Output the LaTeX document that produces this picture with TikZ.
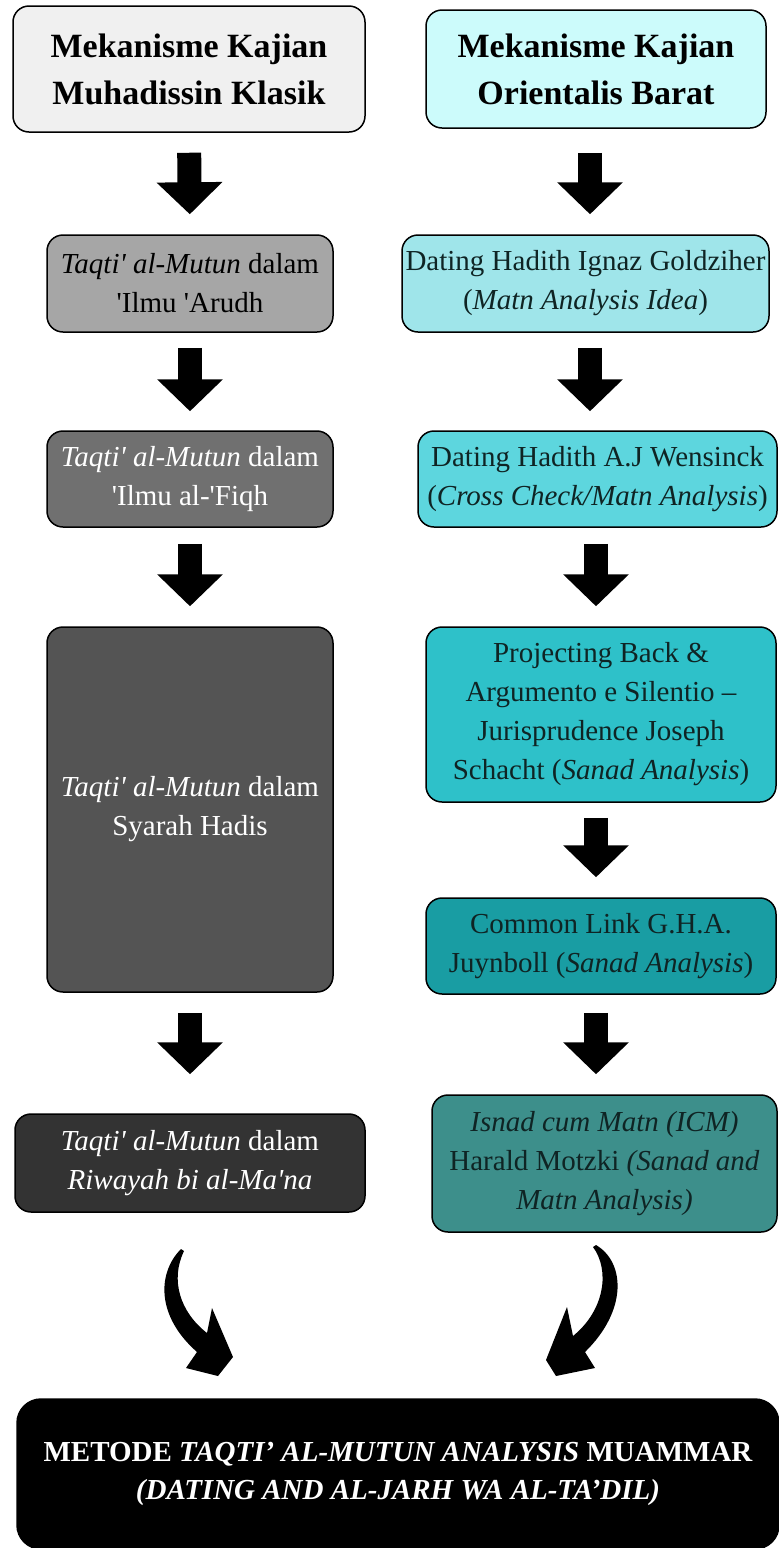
\documentclass[tikz,border=0pt]{standalone}
\usepackage{fontspec}
\setmainfont{Liberation Serif}[Ligatures=TeXOff]
\usetikzlibrary{arrows.meta}
\definecolor{gA}{HTML}{F0F0F0}
\definecolor{gB}{HTML}{A6A6A6}
\definecolor{gC}{HTML}{707070}
\definecolor{gD}{HTML}{545454}
\definecolor{gE}{HTML}{333333}
\definecolor{cA}{HTML}{CCFBFB}
\definecolor{cB}{HTML}{9FE5EA}
\definecolor{cC}{HTML}{5DD6DE}
\definecolor{cD}{HTML}{2EC1C9}
\definecolor{cE}{HTML}{199DA3}
\definecolor{cF}{HTML}{3D8F8B}
\definecolor{tR}{HTML}{0F2424}
\begin{document}
\begin{tikzpicture}[x=1pt,y=-1pt,
  box/.style={draw=black, line width=1.5pt, rounded corners=16pt, align=center, inner sep=0pt},
  hdr/.style={box, font=\fontsize{34}{47}\selectfont\bfseries},
  txt/.style={box, font=\fontsize{29}{39}\selectfont},
  barrow/.style={line width=24pt, -{Triangle[width=64pt,length=32pt]}},
]
\useasboundingbox (0,0) rectangle (779,1548);

% left column
\node[hdr, fill=gA, minimum width=352pt, minimum height=126pt] (L1) at (189,69) {Mekanisme Kajian\\Muhadissin Klasik};
\node[txt, fill=gB, minimum width=286pt, minimum height=97pt] (L2) at (190,283.5) {\textit{Taqti' al-Mutun} dalam\\'Ilmu 'Arudh};
\node[txt, fill=gC, text=white, minimum width=286pt, minimum height=96pt] (L3) at (190,479) {\textit{Taqti' al-Mutun} dalam\\'Ilmu al-'Fiqh};
\node[txt, fill=gD, text=white, minimum width=286pt, minimum height=365pt] (L4) at (190,809.5) {\textit{Taqti' al-Mutun} dalam\\Syarah Hadis};
\node[txt, fill=gE, text=white, minimum width=350pt, minimum height=98pt] (L5) at (190,1163) {\textit{Taqti' al-Mutun} dalam\\\textit{Riwayah bi al-Ma'na}};

% right column
\node[hdr, fill=cA, minimum width=340pt, minimum height=118pt] (R1) at (596,69) {Mekanisme Kajian\\Orientalis Barat};
\node[txt, fill=cB, text=tR, minimum width=367pt, minimum height=97pt] (R2) at (585.5,283.5) {Dating Hadith Ignaz Goldziher\\(\textit{Matn Analysis Idea})};
\node[txt, fill=cC, text=tR, minimum width=359pt, minimum height=96pt] (R3) at (597.5,479) {Dating Hadith A.J Wensinck\\(\textit{Cross Check/Matn Analysis})};
\node[txt, fill=cD, text=tR, minimum width=350pt, minimum height=175pt] (R4) at (601,714.5) {Projecting Back \&\\Argumento e Silentio –\\Jurisprudence Joseph\\Schacht (\textit{Sanad Analysis})};
\node[txt, fill=cE, text=tR, minimum width=350pt, minimum height=96pt] (R5) at (601,946) {Common Link G.H.A.\\Juynboll (\textit{Sanad Analysis})};
\node[txt, fill=cF, text=tR, minimum width=345pt, minimum height=137pt] (R6) at (604.5,1163.5) {\textit{Isnad cum Matn (ICM)}\\Harald Motzki \textit{(Sanad and}\\\textit{Matn Analysis)}};

% bottom
\node[box, fill=black, text=white, rounded corners=24pt, minimum width=762pt, minimum height=150pt,
  font=\fontsize{29}{38}\selectfont\bfseries] (M) at (398,1474)
  {METODE \textit{TAQTI’ AL-MUTUN ANALYSIS} MUAMMAR\\\textit{(DATING AND AL-JARH WA AL-TA’DIL)}};

% straight block arrows, left
\draw[barrow, shorten <=20pt, shorten >=20pt] (L1.south) -- (L2.north);
\draw[barrow, shorten <=15pt, shorten >=19pt] (L2.south) -- (L3.north);
\draw[barrow, shorten <=16pt, shorten >=20pt] (L3.south) -- (L4.north);
\draw[barrow, shorten <=20pt, shorten >=39pt] (L4.south) -- (L4.south |- L5.north);

% straight block arrows, right
\draw[barrow, shorten <=24pt, shorten >=20pt] ([xshift=-6pt]R1.south) -- ([xshift=-6pt]R1.south |- R2.north);
\draw[barrow, shorten <=15pt, shorten >=19pt] ([xshift=4.5pt]R2.south) -- ([xshift=4.5pt]R2.south |- R3.north);
\draw[barrow, shorten <=16pt, shorten >=20pt] ([xshift=-1.5pt]R3.south) -- ([xshift=-1.5pt]R3.south |- R4.north);
\draw[barrow, shorten <=15pt, shorten >=20pt] ([xshift=-5pt]R4.south) -- ([xshift=-5pt]R4.south |- R5.north);
\draw[barrow, shorten <=18pt, shorten >=20pt] ([xshift=-5pt]R5.south) -- ([xshift=-5pt]R5.south |- R6.north);

% curved arrows into the bottom box
\fill[black] (181,1249) .. controls (158,1272) and (155,1315) .. (197,1352)
  -- (186,1368) -- (218,1376) -- (233,1357) -- (212,1308) -- (207,1333)
  .. controls (180,1312) and (170,1280) .. (184,1251) -- cycle;
\fill[black] (596,1245) .. controls (625,1262) and (628,1310) .. (585,1352)
  -- (595,1368) -- (556,1376) -- (546,1360) -- (567,1307) -- (573,1336)
  .. controls (605,1310) and (610,1270) .. (593,1247) -- cycle;
\end{tikzpicture}
\end{document}
